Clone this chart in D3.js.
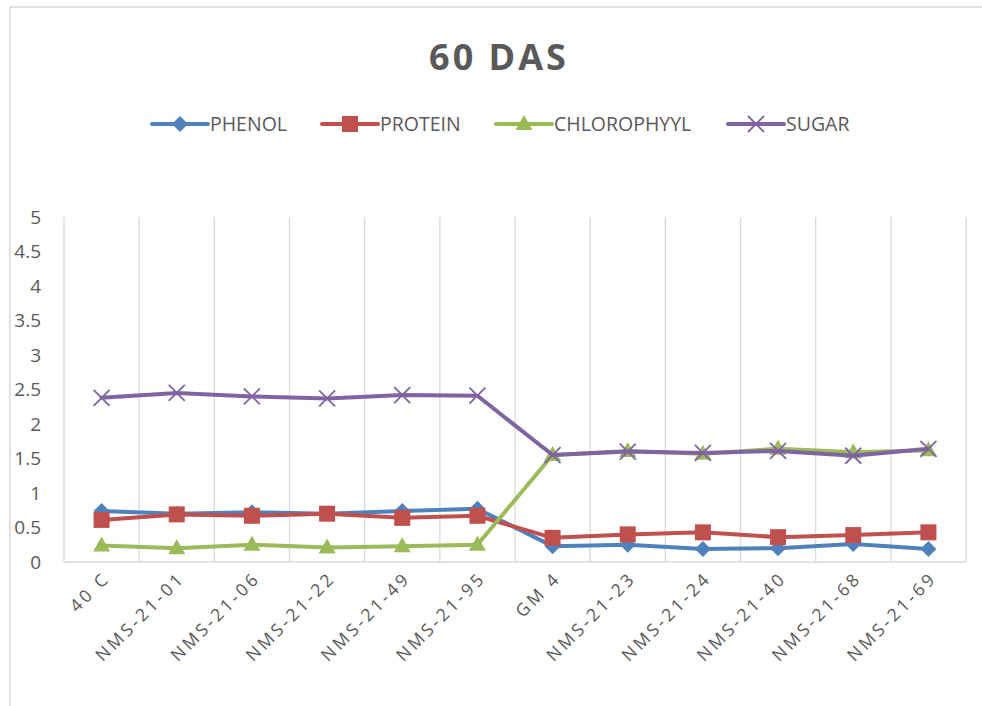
<!DOCTYPE html>
<html>
<head>
<meta charset="utf-8">
<script src="https://cdn.jsdelivr.net/npm/d3@7"></script>
<style>
  body { margin: 0; background: #fff; }
  text { font-family: "Open Sans", "Noto Sans", sans-serif; fill: #595959; }
</style>
</head>
<body>
<script>
/*** data ***/
const categories = ["40 C", "NMS-21-01", "NMS-21-06", "NMS-21-22", "NMS-21-49", "NMS-21-95",
  "GM 4", "NMS-21-23", "NMS-21-24", "NMS-21-40", "NMS-21-68", "NMS-21-69"];
const phenol      = [0.74, 0.70, 0.72, 0.70, 0.74, 0.77, 0.23, 0.25, 0.19, 0.20, 0.26, 0.19];
const protein     = [0.61, 0.69, 0.67, 0.70, 0.64, 0.67, 0.35, 0.40, 0.43, 0.36, 0.39, 0.43];
const chlorophyll = [0.24, 0.20, 0.25, 0.21, 0.23, 0.25, 1.55, 1.61, 1.57, 1.64, 1.59, 1.62];
const sugar       = [2.38, 2.45, 2.40, 2.37, 2.42, 2.41, 1.55, 1.60, 1.58, 1.61, 1.54, 1.64];
const yTicks = [0, 0.5, 1, 1.5, 2, 2.5, 3, 3.5, 4, 4.5, 5];

const series = [
  { name: "PHENOL", values: phenol, color: "#4F81BD", marker: "diamond" },
  { name: "PROTEIN", values: protein, color: "#C0504D", marker: "square" },
  { name: "CHLOROPHYYL", values: chlorophyll, color: "#9BBB59", marker: "triangle" },
  { name: "SUGAR", values: sugar, color: "#8064A2", marker: "x" }
];

const width = 982, height = 706;
const plot = { left: 64, right: 966, top: 217, bottom: 562 };

const svg = d3.select("body").append("svg")
  .attr("width", width).attr("height", height);

// chart frame
svg.append("path")
  .attr("d", `M10,${height} V7 H${width}`)
  .attr("fill", "none").attr("stroke", "#d9d9d9").attr("stroke-width", 1.5);

const x = d3.scaleBand().domain(categories).range([plot.left, plot.right]);
const y = d3.scaleLinear().domain([0, 5]).range([plot.bottom, plot.top]);
const cx = d => x(d) + x.bandwidth() / 2;

// vertical gridlines (category boundaries)
svg.append("g")
  .selectAll("line")
  .data(categories)
  .join("line")
  .attr("x1", d => x(d) + x.bandwidth())
  .attr("x2", d => x(d) + x.bandwidth())
  .attr("y1", plot.top).attr("y2", plot.bottom)
  .attr("stroke", "#d9d9d9").attr("stroke-width", 1.3);

// axis lines
svg.append("line")
  .attr("x1", plot.left).attr("x2", plot.left)
  .attr("y1", plot.top).attr("y2", plot.bottom)
  .attr("stroke", "#d9d9d9").attr("stroke-width", 1.3);
svg.append("line")
  .attr("x1", plot.left).attr("x2", plot.right)
  .attr("y1", plot.bottom).attr("y2", plot.bottom)
  .attr("stroke", "#d9d9d9").attr("stroke-width", 1.5);

// y axis labels
const yAxis = d3.axisLeft(y).tickValues(yTicks).tickSize(0).tickPadding(0)
  .tickFormat(d3.format("~g"));
const gy = svg.append("g").attr("transform", "translate(41,0)").call(yAxis);
gy.select(".domain").remove();
gy.selectAll("text")
  .style("font-size", "19px").style("fill", "#595959")
  .style("font-family", "'Open Sans', sans-serif");

// x axis labels
svg.append("g")
  .selectAll("text")
  .data(categories)
  .join("text")
  .attr("transform", d => `translate(${cx(d) + 5},${plot.bottom + 13}) rotate(-45)`)
  .attr("text-anchor", "end")
  .attr("dy", "0.35em")
  .style("font-size", "17.5px")
  .style("letter-spacing", "3.1px")
  .text(d => d);

// markers
function drawMarker(g, type, color, px, py) {
  if (type === "diamond") {
    g.append("path").attr("d", `M${px},${py - 8}L${px + 8},${py}L${px},${py + 8}L${px - 8},${py}Z`)
      .attr("fill", color);
  } else if (type === "square") {
    g.append("rect").attr("x", px - 8).attr("y", py - 8).attr("width", 16).attr("height", 16)
      .attr("fill", color);
  } else if (type === "triangle") {
    g.append("path").attr("d", `M${px},${py - 9}L${px + 8.5},${py + 6}L${px - 8.5},${py + 6}Z`)
      .attr("fill", color);
  } else {
    g.append("path").attr("d", `M${px - 8},${py - 8}L${px + 8},${py + 8}M${px - 8},${py + 8}L${px + 8},${py - 8}`)
      .attr("stroke", color).attr("stroke-width", 1.8).attr("fill", "none");
  }
}

const line = d3.line().x((d, i) => cx(categories[i])).y(d => y(d));

series.forEach(s => {
  const g = svg.append("g");
  g.append("path")
    .attr("d", line(s.values))
    .attr("fill", "none").attr("stroke", s.color)
    .attr("stroke-width", 4).attr("stroke-linejoin", "round").attr("stroke-linecap", "round");
  s.values.forEach((v, i) => drawMarker(g, s.marker, s.color, cx(categories[i]), y(v)));
});

// title
svg.append("text")
  .attr("x", 499).attr("y", 70)
  .attr("text-anchor", "middle")
  .style("font-size", "36px").style("font-weight", "bold")
  .style("letter-spacing", "3px")
  .text("60 DAS");

// legend
const legendX = [152, 322, 496, 728];
const legend = svg.append("g");
series.forEach((s, i) => {
  const lx = legendX[i], ly = 124;
  legend.append("line")
    .attr("x1", lx).attr("x2", lx + 56).attr("y1", ly).attr("y2", ly)
    .attr("stroke", s.color).attr("stroke-width", 4).attr("stroke-linecap", "round");
  drawMarker(legend, s.marker, s.color, lx + 28, ly);
  legend.append("text")
    .attr("x", lx + 58).attr("y", ly).attr("dy", "0.35em")
    .style("font-size", "19.5px")
    .text(s.name);
});
</script>
</body>
</html>
